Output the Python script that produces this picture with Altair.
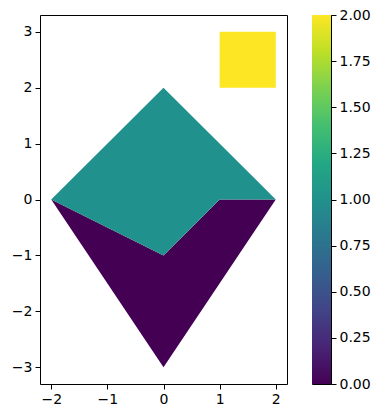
import altair as alt
import pandas as pd

# Polygon vertices and their colour values
teal_x = [-2, 0, 2, 1, 0]
teal_y = [0, 2, 0, 0, -1]
teal_value = 1.0

purple_x = [-2, 0, 1, 2, 0]
purple_y = [0, -1, 0, 0, -3]
purple_value = 0.0

yellow_x = [1, 2, 2, 1]
yellow_y = [2, 2, 3, 3]
yellow_value = 2.0

x_ticks = [-2, -1, 0, 1, 2]
y_ticks = [-3, -2, -1, 0, 1, 2, 3]
cbar_ticks = [0.0, 0.25, 0.5, 0.75, 1.0, 1.25, 1.5, 1.75, 2.0]
cbar_range = [0.0, 2.0]

# viridis colour stops for the colour bar
viridis_stops = ["#440154", "#482475", "#414487", "#355f8d", "#2a788e", "#21918c",
                 "#22a884", "#44bf70", "#7ad151", "#bddf26", "#fde725"]

rows = []
for pid, (xs, ys, v) in enumerate([
    (purple_x, purple_y, purple_value),
    (teal_x, teal_y, teal_value),
    (yellow_x, yellow_y, yellow_value),
]):
    for i, (x, y) in enumerate(zip(xs, ys)):
        rows.append({"poly": pid, "order": i, "x": x, "y": y, "value": v})
df = pd.DataFrame(rows)

main = alt.Chart(df).mark_line(
    filled=True, interpolate="linear-closed", strokeWidth=0
).encode(
    x=alt.X("x:Q", scale=alt.Scale(domain=[-2.2, 2.2], nice=False, zero=False),
            axis=alt.Axis(values=x_ticks, title=None, format="d")),
    y=alt.Y("y:Q", scale=alt.Scale(domain=[-3.3, 3.3], nice=False, zero=False),
            axis=alt.Axis(values=y_ticks, title=None, format="d")),
    color=alt.Color("value:Q", scale=alt.Scale(scheme="viridis", domain=cbar_range),
                    legend=None),
    order=alt.Order("order:Q"),
    detail="poly:N",
).properties(width=247, height=369)

n = len(viridis_stops)
gradient = alt.Gradient(
    gradient="linear",
    stops=[alt.GradientStop(color=c, offset=i / (n - 1)) for i, c in enumerate(viridis_stops)],
    x1=0, x2=0, y1=1, y2=0,
)

cbar_df = pd.DataFrame({"lo": [cbar_range[0]], "hi": [cbar_range[1]]})
cbar = alt.Chart(cbar_df).mark_rect(fill=gradient, strokeWidth=0).encode(
    x=alt.value(0), x2=alt.value(19),
    y=alt.Y("lo:Q", scale=alt.Scale(domain=cbar_range, nice=False, zero=False),
            axis=alt.Axis(values=cbar_ticks, format=".2f", title=None, orient="right")),
    y2="hi:Q",
).properties(width=19, height=369)

chart = alt.hconcat(main, cbar, spacing=23).properties(
    autosize=alt.AutoSizeParams(type="none"),
    padding={"left": 32, "top": 7, "right": 332, "bottom": 395},
).configure_view(
    stroke="black", strokeWidth=1
).configure_axis(
    domain=False, grid=False, ticks=True, tickColor="black", tickSize=5,
    labelFontSize=14, labelColor="black", labelFont="DejaVu Sans", labelPadding=3,
)

chart.save("out.html", embed_options={"renderer": "svg", "actions": False})
